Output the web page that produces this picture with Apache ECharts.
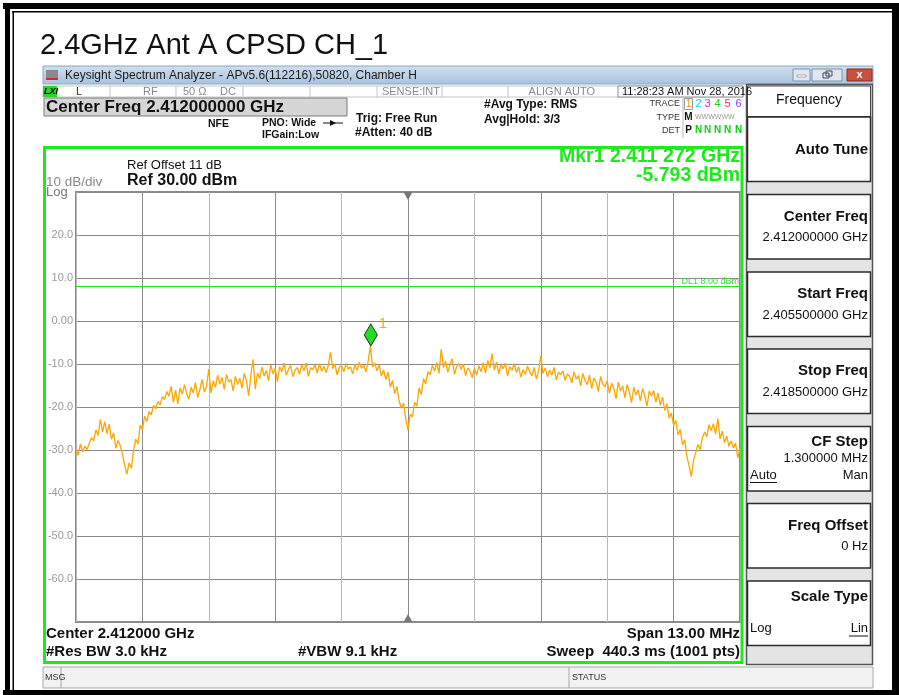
<!DOCTYPE html>
<html>
<head>
<meta charset="utf-8">
<title>2.4GHz Ant A CPSD CH_1</title>
<script src="https://cdn.jsdelivr.net/npm/echarts@6/dist/echarts.min.js"></script>
<style>
html, body { margin: 0; padding: 0; background: #fff; }
#chart { width: 899px; height: 695px; }
</style>
</head>
<body>
<div id="chart"></div>
<script>
// sweep settings (MHz), trace
var startFreq = 2405.5;
var spanMHz = 13.0;
var divX = 1.3;

var yTicks = [20, 10, 0, -10, -20, -30, -40, -50, -60];
var yTickLabels = ['20.0', '10.0', '0.00', '-10.0', '-20.0', '-30.0', '-40.0', '-50.0', '-60.0'];

// trace 1, dBm (301 samples across the span)
var traceDbm = [
  -29.8,-31.2,-28.6,-30.4,-29.1,-29.9,-28.4,-27.1,-27.9,-25.3,-26.6,-22.9,-25.8,-23.4,-26.2,-24.0,-27.5,-26.0,-29.6,-27.8,
  -29.0,-31.0,-33.5,-35.6,-33.0,-34.2,-30.1,-27.5,-28.6,-24.2,-25.3,-22.1,-23.4,-21.0,-21.8,-19.6,-20.4,-18.7,-19.5,-17.6,
  -18.3,-16.4,-17.5,-15.2,-18.9,-16.1,-19.3,-15.6,-17.0,-14.8,-16.9,-18.2,-15.4,-16.7,-14.3,-17.8,-15.9,-13.6,-16.5,-15.1,
  -11.2,-16.8,-13.9,-15.4,-12.6,-14.7,-13.1,-15.9,-12.4,-14.2,-13.6,-16.3,-12.9,-14.8,-13.3,-15.6,-12.2,-13.8,-17.4,-12.7,
  -8.9,-15.8,-12.1,-13.4,-10.7,-12.8,-11.5,-13.9,-10.2,-12.3,-11.0,-14.1,-10.6,-11.8,-9.8,-12.6,-11.2,-10.4,-13.0,-11.4,
  -10.8,-12.4,-10.1,-11.6,-9.7,-12.9,-10.9,-11.3,-10.2,-12.1,-9.9,-11.7,-10.5,-12.0,-10.3,-7.3,-11.1,-10.0,-12.6,-10.7,
  -10.4,-11.8,-9.9,-11.2,-10.6,-12.3,-10.1,-11.5,-9.6,-11.0,-10.3,-11.9,-9.4,-5.8,-10.7,-9.8,-11.6,-10.2,-12.8,-11.4,
  -13.6,-11.9,-15.4,-13.8,-16.9,-15.2,-18.6,-20.3,-19.1,-22.8,-25.4,-21.7,-22.3,-18.9,-19.8,-15.6,-17.1,-13.4,-14.6,-11.8,
  -12.5,-10.3,-11.7,-9.6,-12.2,-6.6,-10.8,-9.4,-11.9,-10.1,-8.8,-12.4,-10.6,-9.9,-11.3,-10.0,-12.7,-10.9,-11.6,-13.2,
  -11.0,-12.6,-10.4,-11.8,-9.7,-12.1,-9.2,-10.9,-7.5,-11.4,-9.5,-12.3,-10.2,-11.1,-9.8,-12.8,-10.6,-11.5,-9.9,-12.0,
  -10.7,-13.1,-11.3,-12.4,-10.5,-11.9,-12.8,-10.8,-13.5,-11.6,-8.1,-12.2,-10.9,-13.0,-11.4,-12.6,-10.8,-13.7,-11.9,-12.5,
  -11.6,-13.8,-12.3,-12.9,-14.4,-11.8,-13.5,-12.7,-15.1,-12.2,-13.9,-14.8,-12.6,-15.7,-13.3,-14.2,-16.4,-12.9,-14.7,-15.3,
  -13.9,-16.8,-14.5,-15.6,-18.1,-14.2,-16.3,-15.1,-17.9,-14.8,-16.6,-19.0,-15.4,-17.2,-16.0,-18.6,-15.7,-17.5,-19.8,-16.3,
  -17.4,-16.2,-18.9,-16.8,-19.6,-17.7,-20.8,-19.2,-22.6,-21.4,-24.3,-23.1,-26.5,-25.2,-28.8,-27.6,-31.4,-33.7,-36.2,-32.5,
  -30.6,-28.7,-29.9,-27.2,-25.8,-26.9,-24.1,-25.5,-23.9,-26.3,-22.7,-27.4,-25.6,-28.3,-26.8,-29.1,-27.9,-29.6,-28.4,-31.8,-29.7
];

var mkrFreq = 2411.272;   // MHz
var mkrDbm = -5.793;
var dl1 = 8.0;

var FONT = '"Liberation Sans", Arial, sans-serif';
var NARROW = '"Liberation Sans Narrow", "Liberation Sans", Arial, sans-serif';
var GREEN = '#1ee81e';
var ORANGE = '#ffa500';

// x is MHz from start freq, so the 1.3 MHz divisions start at 0
var pts = [];
for (var i = 0; i < traceDbm.length; i++) {
    pts.push([i * spanMHz / (traceDbm.length - 1), traceDbm[i]]);
}

var G = [];
function rect(x, y, w, h, fill, stroke, lw, z) {
    G.push({type: 'rect', z: z || 1, shape: {x: x, y: y, width: w, height: h},
        style: {fill: fill || 'none', stroke: stroke || null, lineWidth: lw || 1}});
}
function ln(x1, y1, x2, y2, color, lw, z) {
    G.push({type: 'line', z: z || 3, shape: {x1: x1, y1: y1, x2: x2, y2: y2},
        style: {stroke: color, lineWidth: lw || 1}});
}
function txt(x, y, s, font, color, align, z) {
    G.push({type: 'text', z: z || 6, x: x, y: y,
        style: {text: s, font: font, fill: color || '#000', textAlign: align || 'left', textVerticalAlign: 'middle'}});
}

// outer document frame
rect(3, 3, 896, 6, '#000', null, 1, 1);
rect(12, 11, 887, 1.5, '#000', null, 1, 1);
rect(5, 3, 5, 692, '#000', null, 1, 1);
rect(12.5, 11, 1.5, 684, '#000', null, 1, 1);
rect(892, 3, 7, 692, '#000', null, 1, 1);
rect(3, 690, 896, 5, '#000', null, 1, 1);

txt(40, 46, '2.4GHz Ant A CPSD CH_1', '29px ' + FONT, '#111');

// window title bar
G.push({type: 'rect', z: 1, shape: {x: 43, y: 66, width: 830, height: 18},
    style: {fill: new echarts.graphic.LinearGradient(0, 0, 0, 1, [
        {offset: 0, color: '#cfdff0'}, {offset: 1, color: '#a9c2de'}]), stroke: '#8fa6c0', lineWidth: 1}});
rect(46, 70, 12, 10, '#8a8a8a', null, 1, 2);
rect(46, 78, 12, 2, '#c83030', null, 1, 3);
txt(65, 75.5, 'Keysight Spectrum Analyzer - APv5.6(112216),50820, Chamber H', '12px ' + NARROW, '#1a1a1a');
rect(793, 69, 17, 12, '#dfe6ef', '#7f93ab', 1, 2);
rect(797, 75, 9, 2, '#fff', '#667', 0.5, 3);
rect(812, 69, 30, 12, '#dfe6ef', '#7f93ab', 1, 2);
rect(823, 73, 6, 5, 'none', '#445', 1, 3);
rect(826, 71, 6, 5, 'none', '#445', 1, 3);
rect(847, 69, 25, 12, '#c9503f', '#8a2a20', 1, 2);
txt(859.5, 75, 'x', 'bold 11px ' + FONT, '#fff', 'center');

// status row
rect(43, 86, 700, 11, '#fff', '#c4c4c4', 1, 1);
rect(43, 86, 14, 11, '#2ad42a', null, 1, 2);
txt(44, 91.5, 'LXI', 'italic bold 9px ' + FONT, '#000');
txt(76, 91.5, 'L', '11px ' + FONT, '#7a1010');
[110, 176, 243, 310, 377, 442, 508].forEach(function (x) { ln(x, 86, x, 97, '#c4c4c4', 1, 2); });
txt(143, 91.5, 'RF', '11px ' + FONT, '#8a8a8a');
txt(183, 91.5, '50 Ω', '11px ' + FONT, '#8a8a8a');
txt(220, 91.5, 'DC', '11px ' + FONT, '#8a8a8a');
txt(440, 91.5, 'SENSE:INT', '11px ' + FONT, '#8a8a8a', 'right');
txt(595, 91.5, 'ALIGN AUTO', '11px ' + FONT, '#8a8a8a', 'right');
rect(618, 86, 125, 11, '#fff', '#909090', 1, 2);
txt(622, 91.5, '11:28:23 AM Nov 28, 2016', '11px ' + FONT, '#111');

// settings header
rect(44, 98, 303, 18, '#d6d6d6', '#7a7a7a', 1, 1);
txt(46, 107.5, 'Center Freq 2.412000000 GHz', 'bold 17px ' + FONT, '#111');
txt(208, 124, 'NFE', 'bold 10.5px ' + FONT, '#111');
txt(262, 123, 'PNO: Wide', 'bold 10.5px ' + FONT, '#111');
ln(323, 123, 343, 123, '#111', 1, 3);
G.push({type: 'polygon', z: 3, shape: {points: [[330, 120], [336, 123], [330, 126]]}, style: {fill: '#111'}});
txt(262, 135.5, 'IFGain:Low', 'bold 10.5px ' + FONT, '#111');
txt(356, 119, 'Trig: Free Run', 'bold 12px ' + FONT, '#111');
txt(355, 133, '#Atten: 40 dB', 'bold 12px ' + FONT, '#111');
txt(484, 104.5, '#Avg Type: RMS', 'bold 12px ' + FONT, '#111');
txt(484, 119.5, 'Avg|Hold: 3/3', 'bold 12px ' + FONT, '#111');

txt(680, 104, 'TRACE', '9px ' + FONT, '#333', 'right');
txt(680, 117.5, 'TYPE', '9px ' + FONT, '#333', 'right');
txt(680, 130.5, 'DET', '9px ' + FONT, '#333', 'right');
ln(683, 98, 683, 138, '#bbb', 1, 2);
rect(684.5, 98.5, 8, 11, 'none', '#999', 1, 2);
var trColors = ['#f09a20', '#14c8f0', '#f020f0', '#20d020', '#f03060', '#8040ff'];
var trX = [688.5, 698.5, 707.5, 717.5, 727.5, 738.5];
trColors.forEach(function (c, k) { txt(trX[k], 104, String(k + 1), '11px ' + FONT, c, 'center'); });
txt(688.5, 117.5, 'M', 'bold 10px ' + FONT, '#111', 'center');
txt(695, 117.5, 'WWWWWW', '7px ' + FONT, '#999');
txt(688.5, 130.5, 'P', 'bold 10px ' + FONT, '#111', 'center');
for (var k = 1; k < 6; k++) { txt(trX[k], 130.5, 'N', 'bold 10px ' + FONT, '#10d010', 'center'); }

// plot annotations
txt(127, 165, 'Ref Offset 11 dB', '13px ' + FONT, '#111');
txt(127, 180.5, 'Ref 30.00 dBm', 'bold 16px ' + FONT, '#111');
txt(46, 182, '10 dB/div', '13.5px ' + FONT, '#8a8a8a');
txt(46, 192, 'Log', '13px ' + FONT, '#777');
txt(740, 157, 'Mkr1 2.411 272 GHz', 'bold 19.5px ' + FONT, GREEN, 'right');
txt(740, 176, '-5.793 dBm', 'bold 19.5px ' + FONT, GREEN, 'right');

txt(46, 634, 'Center 2.412000 GHz', 'bold 15px ' + FONT, '#111');
txt(740, 634, 'Span 13.00 MHz', 'bold 15px ' + FONT, '#111', 'right');
txt(46, 652, '#Res BW 3.0 kHz', 'bold 15px ' + FONT, '#111');
txt(298, 652, '#VBW 9.1 kHz', 'bold 15px ' + FONT, '#111');
txt(740, 652, 'Sweep  440.3 ms (1001 pts)', 'bold 15px ' + FONT, '#111', 'right');

// green display frame
rect(44.5, 147.5, 697.5, 515, 'none', GREEN, 3, 100);

// message bar
rect(43, 667, 830, 21, '#f2f2f2', '#a8a8a8', 1, 1);
ln(61, 667, 61, 688, '#a8a8a8', 1, 2);
ln(569, 667, 569, 688, '#a8a8a8', 1, 2);
txt(45, 677.5, 'MSG', '9px ' + FONT, '#333');
txt(572, 677.5, 'STATUS', '9px ' + FONT, '#333');

// softkey panel
rect(746.5, 84.5, 126, 580, '#e4e4e4', '#555', 1.5, 1);
rect(747.5, 86, 123, 30.5, '#fff', '#444', 1, 2);
txt(809, 100.5, 'Frequency', '14px ' + FONT, '#111', 'center');
var keyTops = [117, 194.5, 272, 349, 426.5, 503.5, 581];
keyTops.forEach(function (t) { rect(747.5, t, 123, 64.5, '#fff', '#2a2a2a', 1.5, 2); });
var KB = 'bold 15px ' + FONT, KV = '13px ' + FONT;
txt(868, keyTops[0] + 33, 'Auto Tune', KB, '#111', 'right');
txt(868, keyTops[1] + 22, 'Center Freq', KB, '#111', 'right');
txt(868, keyTops[1] + 43, '2.412000000 GHz', KV, '#111', 'right');
txt(868, keyTops[2] + 22, 'Start Freq', KB, '#111', 'right');
txt(868, keyTops[2] + 43, '2.405500000 GHz', KV, '#111', 'right');
txt(868, keyTops[3] + 22, 'Stop Freq', KB, '#111', 'right');
txt(868, keyTops[3] + 43, '2.418500000 GHz', KV, '#111', 'right');
txt(868, keyTops[4] + 15.5, 'CF Step', KB, '#111', 'right');
txt(868, keyTops[4] + 32, '1.300000 MHz', KV, '#111', 'right');
txt(750, keyTops[4] + 48.5, 'Auto', KV, '#111');
ln(750, keyTops[4] + 56, 777, keyTops[4] + 56, '#111', 1, 4);
txt(868, keyTops[4] + 48.5, 'Man', KV, '#111', 'right');
txt(868, keyTops[5] + 22, 'Freq Offset', KB, '#111', 'right');
txt(868, keyTops[5] + 43, '0 Hz', KV, '#111', 'right');
txt(868, keyTops[6] + 16, 'Scale Type', KB, '#111', 'right');
txt(750, keyTops[6] + 47.5, 'Log', KV, '#111');
txt(868, keyTops[6] + 47.5, 'Lin', KV, '#111', 'right');
ln(849, keyTops[6] + 55, 868, keyTops[6] + 55, '#111', 1, 4);

var chart = echarts.init(document.getElementById('chart'));
var option = {
    animation: false,
    backgroundColor: '#fff',
    grid: {
        left: 76, top: 192, width: 664, height: 430,
        show: true, borderColor: '#8a8a8a', borderWidth: 2,
        containLabel: false, outerBoundsMode: 'none'
    },
    xAxis: {
        type: 'value', min: 0, max: spanMHz, interval: divX,
        axisLabel: {show: false}, axisTick: {show: false}, axisLine: {show: false},
        splitLine: {show: true, lineStyle: {color: ['#b8b8b8', '#8a8a8a'], width: 1}}
    },
    yAxis: {
        type: 'value', min: -70, max: 30, interval: 10,
        axisTick: {show: false}, axisLine: {show: false},
        axisLabel: {
            margin: 3, color: '#999', fontSize: 11, fontFamily: FONT,
            formatter: function (v) {
                var idx = yTicks.indexOf(v);
                return idx >= 0 ? yTickLabels[idx] : '';
            }
        },
        splitLine: {show: true, lineStyle: {color: '#8a8a8a', width: 1}}
    },
    series: [{
        type: 'line',
        data: pts,
        showSymbol: false,
        symbol: 'none',
        lineStyle: {color: ORANGE, width: 1.3},
        itemStyle: {color: ORANGE},
        markLine: {
            silent: true,
            symbol: ['none', 'none'],
            lineStyle: {color: GREEN, type: 'solid', width: 1},
            label: {show: true, position: 'insideEndTop', formatter: 'DL1 8.00 dBm',
                color: '#30dd30', fontSize: 9, fontFamily: FONT, distance: 1},
            data: [{yAxis: dl1}]
        },
        markPoint: {
            silent: true,
            data: [
                {coord: [mkrFreq - startFreq, mkrDbm], symbol: 'diamond', symbolSize: [13, 22],
                    symbolOffset: [0, -11],
                    itemStyle: {color: '#22dd22', borderColor: '#2a2a2a', borderWidth: 1},
                    label: {show: true, formatter: '1', position: [15, -6], color: ORANGE,
                        fontSize: 14, fontFamily: FONT}},
                {coord: [spanMHz / 2, 30], symbol: 'triangle', symbolRotate: 180, symbolSize: [9, 8],
                    symbolOffset: [0, 4], itemStyle: {color: '#777'}, label: {show: false}},
                {coord: [spanMHz / 2, -70], symbol: 'triangle', symbolSize: [9, 8],
                    symbolOffset: [0, -4], itemStyle: {color: '#777'}, label: {show: false}}
            ]
        }
    }],
    graphic: {elements: G}
};
chart.setOption(option);
</script>
</body>
</html>
